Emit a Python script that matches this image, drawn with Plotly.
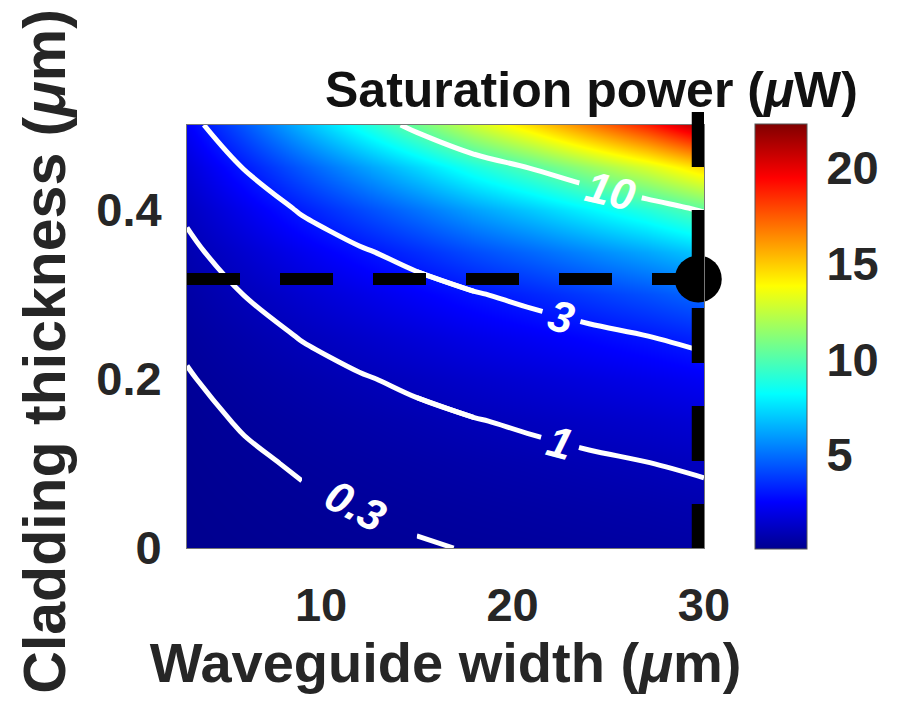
import plotly.graph_objects as go

# Waveguide width (um) and cladding thickness (um) sample grid
widths = [3, 6, 9, 12, 15, 18, 21, 24, 27, 30]
thickness = [0.0, 0.05, 0.10, 0.15, 0.20, 0.25, 0.30, 0.35, 0.40, 0.45, 0.50]

# Saturation power (uW); one row per cladding thickness, one column per width
power = [
    [0.060, 0.111, 0.164, 0.214, 0.266, 0.319, 0.367, 0.419, 0.472, 0.535],
    [0.087, 0.161, 0.238, 0.310, 0.384, 0.461, 0.531, 0.606, 0.682, 0.773],
    [0.126, 0.232, 0.343, 0.448, 0.555, 0.667, 0.767, 0.876, 0.985, 1.117],
    [0.182, 0.336, 0.496, 0.647, 0.802, 0.964, 1.109, 1.266, 1.424, 1.614],
    [0.264, 0.485, 0.718, 0.936, 1.159, 1.393, 1.602, 1.829, 2.059, 2.334],
    [0.381, 0.702, 1.037, 1.353, 1.675, 2.014, 2.316, 2.644, 2.976, 3.373],
    [0.551, 1.014, 1.499, 1.955, 2.421, 2.911, 3.348, 3.822, 4.301, 4.876],
    [0.796, 1.466, 2.167, 2.826, 3.500, 4.208, 4.839, 5.525, 6.217, 7.048],
    [1.151, 2.119, 3.133, 4.085, 5.059, 6.083, 6.995, 7.986, 8.987, 10.19],
    [1.663, 3.063, 4.528, 5.905, 7.312, 8.792, 10.11, 11.54, 12.99, 14.72],
    [2.404, 4.427, 6.545, 8.535, 10.57, 12.71, 14.61, 16.68, 18.77, 21.28],
]

# Contour levels and the width column from which each level's labelled segment starts
contour_levels = [1, 3, 10]
label_from_col = [4, 4, 0]

# The 0.3 uW contour is drawn in two pieces with its label set in the break
low_level = 0.3
low_pieces = [(0, 2), (4, 9)]
low_label_pos = (11.8, 0.05)

color_range = [0.06, 22.3]
colorbar_ticks = [5, 10, 15, 20]
x_ticks = [10, 20, 30]
y_ticks = [0, 0.2, 0.4]
y_tick_text = ["0", "0.2", "0.4"]

# Chosen operating point
op_width = 29.7
op_thickness = 0.318

jet = [
    [0.0, "rgb(0,0,143)"],
    [0.111, "rgb(0,0,255)"],
    [0.365, "rgb(0,255,255)"],
    [0.619, "rgb(255,255,0)"],
    [0.873, "rgb(255,0,0)"],
    [1.0, "rgb(128,0,0)"],
]

FONT = "Liberation Sans, Arial, sans-serif"
INK = "#262626"
LABEL_FONT = dict(family=FONT, size=44, color="white", weight="bold", style="italic")

fig = go.Figure()

fig.add_trace(go.Heatmap(
    x=widths, y=thickness, z=power,
    zsmooth="best", colorscale=jet,
    zmin=color_range[0], zmax=color_range[1],
    colorbar=dict(
        x=1.0986, xanchor="left", xpad=0, ypad=0,
        y=0.5, yanchor="middle", len=1.005, lenmode="fraction",
        thickness=52, outlinewidth=1, outlinecolor="#555555",
        tickvals=colorbar_ticks, ticks="outside", ticklen=10,
        tickcolor="rgba(0,0,0,0)",
        tickfont=dict(family=FONT, size=47, color=INK, weight="bold"),
    ),
    hoverinfo="skip",
))


def columns(i0, i1):
    """Sub-grid of the power table covering width columns i0..i1 (inclusive)."""
    return widths[i0:i1 + 1], [row[i0:i1 + 1] for row in power]


def add_level(level, i0, i1, labelled):
    xs, zs = columns(i0, i1)
    fig.add_trace(go.Contour(
        x=xs, y=thickness, z=zs,
        autocontour=False,
        contours=dict(start=level, end=level, size=1, coloring="none",
                      showlabels=labelled, labelfont=LABEL_FONT),
        line=dict(color="white", width=5, smoothing=1.0),
        showscale=False, hoverinfo="skip",
    ))


last = len(widths) - 1
for lev, c0 in zip(contour_levels, label_from_col):
    # unlabelled lead-in overlaps the labelled segment by one column
    if c0 > 0:
        add_level(lev, 0, c0 + 1, False)
    add_level(lev, c0, last, True)

for i0, i1 in low_pieces:
    add_level(low_level, i0, i1, False)

# Dashed guide lines through the operating point
fig.add_shape(type="line", xref="x", yref="y",
              x0=widths[0], x1=op_width, y0=op_thickness, y1=op_thickness,
              line=dict(color="black", width=12, dash="53px,40px"), layer="above")
fig.add_shape(type="line", xref="x", yref="paper",
              x0=op_width, x1=op_width, y0=1.031, y1=0,
              line=dict(color="black", width=13, dash="55px,43px"), layer="above")

fig.add_trace(go.Scatter(
    x=[op_width], y=[op_thickness], mode="markers",
    marker=dict(color="black", size=47), cliponaxis=False,
    showlegend=False, hoverinfo="skip",
))

fig.update_layout(
    width=897, height=701,
    margin=dict(l=187, r=193, t=125, b=153),
    paper_bgcolor="white", plot_bgcolor="white",
    showlegend=False,
    xaxis=dict(range=[3, 30], tickvals=x_ticks, ticks="outside", ticklen=16,
               tickcolor="rgba(0,0,0,0)", showgrid=False, zeroline=False,
               showline=True, mirror=True, linecolor="#777777", linewidth=1,
               tickfont=dict(family=FONT, size=47, color=INK, weight="bold"),
               title=dict(text="Waveguide width (<i>μ</i>m)", standoff=6,
                          font=dict(family=FONT, size=56, color=INK, weight="bold"))),
    yaxis=dict(range=[0, 0.5], tickvals=y_ticks, ticktext=y_tick_text,
               ticks="outside", ticklen=15, tickcolor="rgba(0,0,0,0)",
               showgrid=False, zeroline=False,
               showline=True, mirror=True, linecolor="#777777", linewidth=1,
               tickfont=dict(family=FONT, size=47, color=INK, weight="bold")),
    annotations=[
        dict(text=f"{low_level:g}", x=low_label_pos[0], y=low_label_pos[1],
             xref="x", yref="y", textangle=27, showarrow=False,
             xanchor="center", yanchor="middle", font=LABEL_FONT),
        dict(text="Cladding thickness (<i>μ</i>m)", textangle=-90,
             xref="paper", yref="paper", x=-0.275, y=0.466,
             xanchor="center", yanchor="middle", showarrow=False,
             font=dict(family=FONT, size=59, color=INK, weight="bold")),
        dict(text="Saturation power (<i>μ</i>W)",
             xref="paper", yref="paper", x=0.783, y=1.083,
             xanchor="center", yanchor="middle", showarrow=False,
             font=dict(family=FONT, size=50, color="#111111", weight="bold")),
    ],
)

fig.write_html("out.html")
